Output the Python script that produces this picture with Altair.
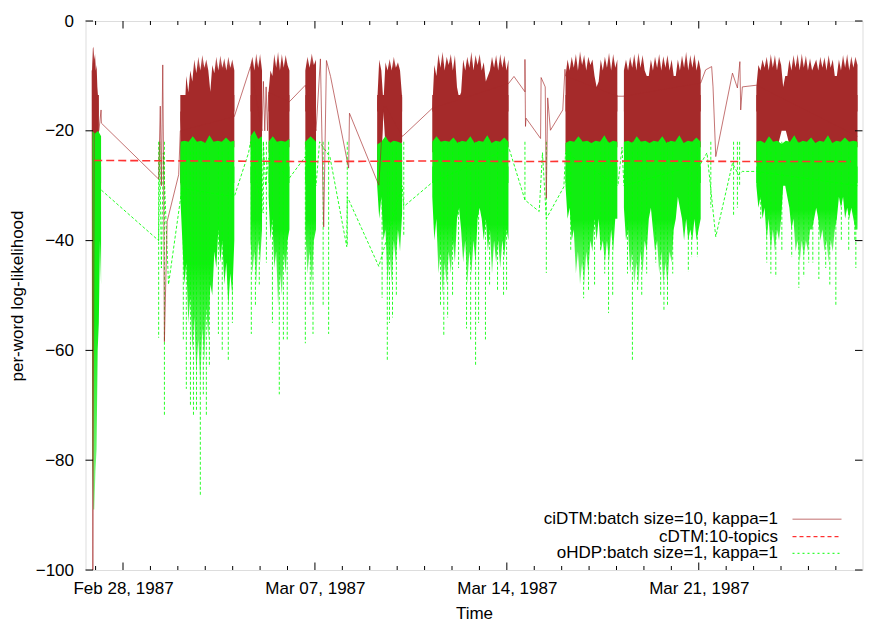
import altair as alt
import pandas as pd

T0 = pd.Timestamp("1987-02-28")

# ---------------- data (days after Feb 28 1987, per-word log-likelihood) -------------
series_names = ["ciDTM:batch size=10, kappa=1", "cDTM:10-topics", "oHDP:batch size=1, kappa=1"]

# ciDTM dense bursts: (start day, end day, upper envelope, lower envelope)
ci_clusters = [
    (-1.13, -0.88, [-9, -5, -4.7, -7, -6, -9, -8, -12, -14, -20],
     [-22, -22, -22, -22, -22, -24, -26, -30, -26, -22]),
    (2.09, 4.06, [-20, -14, -18, -10, -13, -9, -11, -7, -9.5, -6.5, -9, -6.2, -8.5, -7, -9, -12.9, -8, -9.5, -6.5,
                  -9, -6.3, -8.5, -6.8, -9, -6.5, -8.5, -7, -9],
     [-30, -28, -29, -26, -27, -24, -25, -23, -23, -23, -23, -23, -23, -24, -25, -26, -23, -23, -23, -23, -23, -23,
      -23, -23, -23, -23, -23, -23]),
    (4.65, 5.07, [-8, -6.5, -9, -5.9, -8.5, -6, -9], [-23]),
    (5.31, 6.07, [-13, -9, -10, -6, -8.5, -5.6, -9, -6, -8.5, -6.2, -8, -9], [-24, -23, -23]),
    (6.65, 7.04, [-9, -6.5, -8.5, -5.9, -8, -7], [-23]),
    (9.27, 10.18, [-15, -7, -9, -15, -7.5, -9, -6.9, -9, -6.5, -8.5, -7.5, -9, -14],
     [-29, -28, -26, -16.5, -23, -23, -23, -23, -23, -23, -23, -23, -22]),
    (11.28, 14.06, [-16, -8, -10, -6, -8.5, -5.6, -9, -6.5, -8, -6, -9, -6.2, -12, -14, -13, -7, -9, -6.5, -8.5,
                    -5.6, -9, -6.2, -8, -6, -9, -7.5, -11, -10, -9, -6.5, -8.5, -6.2, -9, -6, -8.5, -6.3, -9, -7],
     [-24, -23, -23, -23, -23, -23, -26, -28, -24, -23, -23, -23, -23, -28, -26, -23, -23, -23, -23]),
    (16.14, 18.03, [-10, -7, -9, -6.5, -8.5, -6, -9, -5.5, -8, -6.2, -9, -6.5, -8, -7, -10, -12, -11, -7, -9, -6.5,
                    -8.5, -5.8, -9, -6, -8.5, -7],
     [-24, -23, -23, -23, -23, -23, -23, -24, -26, -24, -23, -23, -23]),
    (18.27, 21.07, [-9, -7, -9, -6.5, -8.5, -6, -9, -5.8, -8.5, -6.2, -9, -10, -10, -7, -9, -6.5, -8.5, -6, -9, -6.4,
                    -8.5, -6.2, -9, -7, -10, -10, -7, -9, -6.3, -8.5, -5.6, -9, -6.2, -8.5, -6, -9, -7, -9],
     [-24, -23, -23, -23, -23, -26, -28, -23, -23, -23, -23, -23, -26, -24, -23, -23, -23, -23, -23]),
    (23.10, 26.79, [-12, -8, -9, -7, -8.5, -6.5, -9, -6, -8.5, -6.2, -9, -6.5, -8, -12, -10, -10, -7, -9, -6.2, -8.5,
                    -6, -9, -5.9, -8.5, -6.3, -9, -6.8, -9, -8, -7, -9, -6.5, -8.5, -6.6, -9, -6.2, -8.5, -7, -10,
                    -10, -7, -9, -6.2, -8.5, -6, -9, -6.4, -8.5, -6.5, -8],
     [-26, -24, -23, -23, -23, -23, -20, -20, -23, -23, -23, -23, -23, -23, -26, -23, -23, -23, -23, -26, -24, -23,
      -23, -23, -23]),
]

# ciDTM sparse trace between bursts
ci_link_day = [-1.13, -1.10, -1.05, -0.88, -0.80, -0.79, 1.30, 1.36, 1.40, 1.45, 1.48, 1.51, 1.61, 2.03, 2.09,
               4.06, 4.65, 5.07, 5.12, 5.17, 5.22, 5.27, 5.31, 6.07, 6.65, 7.04, 7.20, 7.32, 7.42, 7.57, 8.23,
               8.26, 9.33, 9.50, 9.60, 10.18, 10.24, 11.28, 14.06, 14.26, 14.66, 14.66, 14.68, 14.70, 15.23,
               15.25, 15.40, 15.44, 15.49, 15.59, 16.04, 16.12, 16.14, 18.03, 18.27, 21.07, 21.25, 21.47, 21.52,
               21.62, 22.23, 22.41, 22.50, 22.53, 22.59, 23.10, 26.79]
ci_link_val = [-9, -100, -20, -20, -16.2, -18.6, -28.8, -15.5, -30, -8, -26, -58.4, -36.5, -28, -20,
               -17.4, -8.3, -20, -11, -20, -12, -20, -13, -14.7, -11.7, -20, -6.9, -37.5, -7.2, -10.1, -26.8,
               -16.8, -29.9, -15.7, -15.7, -21, -20.8, -15.9, -11.4, -10.1, -12.9, -7, -19.2, -17.7, -21.4,
               -10.3, -12, -32.3, -14, -19.9, -16.2, -8.8, -10, -13.7, -13.7, -11.3, -8.9, -8.3, -12,
               -24.7, -9.5, -12.2, -7.4, -16.2, -12, -11.7, -21]

# oHDP dense bursts: (start day, end day, upper edge, lower envelope)
oh_clusters = [
    (-1.13, -0.80, [-20, -20.5, -20, -21], [-80, -89, -89, -82, -78, -60, -55, -40, -48]),
    (2.09, 4.06, [-22, -21.8, -22, -21, -22, -21.8, -22.2, -20.8, -22, -21.8, -22, -21.2, -22, -21.8],
     [-32, -40, -48, -44, -55, -50, -60, -54, -64, -58, -66, -56, -62, -52, -58, -48, -50, -42,
      -45, -38, -44, -40, -48, -44, -52, -46, -50, -40]),
    (4.65, 5.07, [-21, -20, -21.5, -21], [-40, -46, -42, -48, -40, -44, -38]),
    (5.31, 6.07, [-22, -21, -22, -21.8, -22, -21.5], [-32, -40, -36, -45, -42, -52, -46, -50, -42, -46, -40, -38]),
    (6.65, 7.04, [-22, -21, -22], [-38, -46, -42, -48, -40, -38]),
    (9.27, 10.18, [-22.5, -22, -21, -22.2, -21.8, -22, -22.3],
     [-30, -36, -32, -40, -38, -48, -42, -48, -40, -44, -38, -42, -35]),
    (11.28, 14.06, [-22, -21, -22, -21.8, -22, -21.2, -22.2, -21.8, -22, -21, -22.2, -21.8, -22, -20.8, -22.2, -21.8,
                    -22, -21.2, -22],
     [-32, -40, -36, -46, -42, -50, -44, -48, -42, -46, -40, -44, -36, -34, -38, -44, -40, -48,
      -42, -46, -40, -44, -36, -34, -36, -40, -36, -42, -38, -46, -40, -44, -40, -45, -40, -43, -38, -40]),
    (16.14, 18.03, [-22.2, -21.8, -22, -21, -22, -21.8, -22.2, -21.8, -22, -20.8, -22.2, -21.8, -22],
     [-30, -36, -34, -40, -38, -46, -42, -48, -44, -48, -42, -46, -40, -42, -36, -40, -36, -42,
      -40, -44, -40, -44, -38, -42, -36, -36]),
    (18.27, 21.07, [-22, -21.8, -22.2, -21, -22, -21.8, -22.2, -21.8, -22, -21, -22.2, -21.8, -22, -20.8, -22.2,
                    -21.8, -22, -21.2, -22],
     [-34, -40, -38, -46, -42, -48, -44, -48, -42, -46, -40, -42, -36, -34, -38, -42, -40, -46,
      -42, -48, -44, -48, -42, -44, -38, -36, -32, -34, -36, -40, -36, -40, -38, -40, -36, -40, -38, -36]),
    (23.10, 26.79, [-22, -21.8, -22.2, -21, -22, -21.8, -22.4, -21.8, -22, -20.8, -22.2, -21.8, -22, -21.2, -22.2,
                    -21.8, -22, -20.8, -22.2, -21.8, -22, -21.2, -22, -21.8, -22],
     [-30, -34, -32, -36, -34, -40, -36, -42, -38, -42, -38, -40, -36, -30, -30, -32, -34, -38,
      -36, -42, -40, -44, -40, -43, -40, -42, -38, -38, -36, -34, -36, -40, -38, -42, -40, -44,
      -40, -42, -38, -36, -32, -34, -32, -36, -34, -36, -34, -36, -38, -38]),
]

# oHDP isolated deep drops
oh_spike_top = -22
oh_spike_day = [1.30, 1.51, 2.20, 2.31, 2.46, 2.57, 2.68, 2.82, 2.93, 3.04, 3.15, 3.48, 3.62, 3.84, 3.99,
                4.68, 4.83, 4.97, 5.12, 5.23, 5.45, 5.70, 5.85, 5.99, 6.65, 6.83, 6.93, 7.30, 7.50, 8.18,
                9.45, 9.64, 9.72, 9.83, 9.97, 10.24, 11.36, 11.58, 11.70, 11.84, 12.02, 12.24, 12.53, 12.68,
                12.86, 12.97, 13.22, 13.37, 13.66, 13.88, 13.99, 14.66, 15.44, 16.33, 16.80, 16.98, 17.20,
                17.42, 17.57, 17.71, 17.86, 18.40, 18.58, 18.77, 18.92, 19.10, 19.43, 19.61, 19.73, 19.86,
                20.05, 20.62, 20.74, 20.95, 21.44, 22.27, 22.41, 22.49, 23.26, 23.48, 23.63, 23.81, 24.03,
                24.39, 24.65, 24.83, 25.01, 25.16, 25.38, 25.63, 25.78, 26.00, 26.20, 26.47, 26.69, 26.73]
oh_spike_val = [-57.7, -71.8, -58, -67, -70, -72, -71, -86.5, -68, -72, -63, -57, -60, -62, -55,
                -57, -52, -48, -35, -44, -55, -68, -58, -58, -58.7, -52, -57, -51.7, -57, -41.1,
                -50.4, -62, -55, -54, -50, -39, -38, -52, -57.5, -54, -50, -45, -56, -58,
                -62.7, -55, -58, -48, -49, -50, -49, -32.6, -45.9, -42, -50.5, -49, -48,
                -42, -46, -53.2, -50, -46, -62, -49, -50, -46, -44, -50, -52.6, -52,
                -46, -45.7, -43, -43, -34, -35.6, -34, -30.2, -36, -44, -46, -46.6, -42,
                -43, -48.6, -46.6, -44, -44, -47, -45, -48, -52, -40, -42, -40, -45]

# oHDP sparse trace between bursts
oh_link_day = [-0.79, 1.30, 1.34, 1.40, 1.47, 1.66, 2.15, 4.06, 4.58, 4.65, 5.07, 5.12, 5.20, 5.31, 6.07, 6.65,
               7.04, 7.17, 7.55, 8.16, 8.18, 9.33, 10.18, 10.24, 11.28, 14.08, 14.66, 15.18, 15.30, 15.44,
               16.08, 16.14, 18.05, 18.20, 18.27, 21.07, 21.30, 21.62, 22.23, 22.45, 22.59, 23.10, 26.79]
oh_link_val = [-30.8, -40, -22, -45, -24, -48, -30.5, -32, -24, -22, -35, -22, -30, -25, -28.6, -24.7,
               -30, -22, -24.8, -41.1, -32, -44.7, -30, -33.8, -29.4, -23.2, -32.6, -34.7, -24, -36,
               -30.2, -24, -30, -23, -30, -26, -24, -39.3, -25.9, -28, -27.4, -27.4, -30]

# cDTM
cd_day = [-1.05, 3.0, 7.0, 11.0, 15.0, 19.0, 23.0, 26.55]
cd_val = [-25.4, -25.5, -25.6, -25.5, -25.6, -25.5, -25.6, -25.6]

y_tick_values = [0, -20, -40, -60, -80, -100]
x_major_days = ["1987-02-28", "1987-03-07", "1987-03-14", "1987-03-21"]
x_minor_days = [str(d.date()) for d in pd.date_range("1987-02-27", "1987-03-26", freq="D")]


# ---------------- frames -------------
def t_of(d):
    return T0 + pd.Timedelta(days=float(d))


def edge_frame(clusters, which, mid):
    """One polygon per burst: its upper (which=2) or lower (which=3) edge, filled to a mid level."""
    rows = []
    for cid, c in enumerate(clusters):
        a, b, vals = c[0], c[1], c[which]
        n = len(vals)
        if n == 1:
            rows.append({"cid": cid, "t": t_of(a), "v": vals[0], "mid": mid})
            rows.append({"cid": cid, "t": t_of(b), "v": vals[0], "mid": mid})
            continue
        for k, v in enumerate(vals):
            rows.append({"cid": cid, "t": t_of(a + (b - a) * k / (n - 1)), "v": v, "mid": mid})
    return pd.DataFrame(rows)


# upper/lower halves overlap a little so no seam shows between them
ci_top_df = edge_frame(ci_clusters, 2, -16.5)
ci_bot_df = edge_frame(ci_clusters, 3, -13.5)
oh_top_df = edge_frame(oh_clusters, 2, -29.5)
oh_bot_df = edge_frame(oh_clusters, 3, -26.5)
ci_link_df = pd.DataFrame({"i": range(len(ci_link_day)), "t": [t_of(d) for d in ci_link_day], "v": ci_link_val})
oh_link_df = pd.DataFrame({"i": range(len(oh_link_day)), "t": [t_of(d) for d in oh_link_day], "v": oh_link_val})
oh_spike_df = pd.DataFrame({"t": [t_of(d) for d in oh_spike_day], "top": oh_spike_top, "v": oh_spike_val})
cd_df = pd.DataFrame({"t": [t_of(d) for d in cd_day], "v": cd_val})
major_df = pd.DataFrame({"t": pd.to_datetime(x_major_days)})
minor_df = pd.DataFrame({"t": pd.to_datetime([d for d in x_minor_days if d not in x_major_days])})
ytick_df = pd.DataFrame({"v": y_tick_values})

# ---------------- chart -------------
W, H = 777, 549
FONT = "Liberation Sans"
BROWN = "#a52a2a"
GREEN = "#00ff00"
RED = "#ff0000"
GBODY = "#11ee11"

xscale = alt.Scale(domain=[alt.DateTime(year=1987, month=2, date=26, hours=15, minutes=10),
                           alt.DateTime(year=1987, month=3, date=26, hours=23, minutes=20)])
yscale = alt.Scale(domain=[-100, 0], nice=False, zero=False)

xaxis = alt.Axis(values=[alt.DateTime(year=1987, month=int(s[5:7]), date=int(s[8:10])) for s in x_major_days],
                 format="%b %d, %Y", ticks=False, tickSize=0, domain=False, grid=False,
                 labelFontSize=17, labelFont=FONT, labelColor="black", labelPadding=10,
                 labelFlush=False, labelOverlap=False,
                 titleFontSize=17, titleFont=FONT, titleFontWeight="normal", titleColor="black",
                 titleX=W / 2, titleY=43, titleAlign="center", titleBaseline="middle")
yaxis = alt.Axis(values=y_tick_values, ticks=False, tickSize=0, domain=False, grid=False,
                 labelFontSize=17, labelFont=FONT, labelColor="black", labelPadding=12,
                 titleFontSize=17, titleFont=FONT, titleFontWeight="normal", titleColor="black",
                 titleAngle=270, titleX=-68.5, titleY=H / 2, titleAlign="center", titleBaseline="middle")


def X():
    return alt.X("t:T", scale=xscale, axis=xaxis, title="Time")


def Y(field):
    return alt.Y(field, type="quantitative", scale=yscale, axis=yaxis, title="per-word log-likelihood")


def grad(stops):
    return alt.Gradient(gradient="linear", x1=0, x2=0, y1=0, y2=1,
                        stops=[alt.GradientStop(offset=o, color=c) for o, c in stops])


ci_top = alt.Chart(ci_top_df).mark_area(
    interpolate="linear", color=grad([(0, "#c46a6a"), (0.2, BROWN), (1, BROWN)])).encode(
    x=X(), y=Y("v"), y2=alt.Y2("mid"), detail="cid:N")
ci_bot = alt.Chart(ci_bot_df).mark_area(interpolate="linear", color=BROWN).encode(
    x=X(), y=Y("v"), y2=alt.Y2("mid"), detail="cid:N")
oh_bot = alt.Chart(oh_bot_df).mark_area(
    interpolate="linear", color=grad([(0, GBODY), (0.45, GBODY), (1, "#8cf78c")])).encode(
    x=X(), y=Y("v"), y2=alt.Y2("mid"), detail="cid:N")
oh_top = alt.Chart(oh_top_df).mark_area(interpolate="linear", color=GBODY).encode(
    x=X(), y=Y("v"), y2=alt.Y2("mid"), detail="cid:N")
oh_spikes = alt.Chart(oh_spike_df).mark_rule(color=GREEN, strokeWidth=1, strokeDash=[3, 2], opacity=0.85).encode(
    x=X(), y=Y("top"), y2=alt.Y2("v"))
oh_link = alt.Chart(oh_link_df).mark_line(color=GREEN, strokeWidth=1, strokeDash=[3, 2], opacity=0.85).encode(
    x=X(), y=Y("v"), order="i:Q")
ci_link = alt.Chart(ci_link_df).mark_line(color=BROWN, strokeWidth=1, opacity=0.65).encode(
    x=X(), y=Y("v"), order="i:Q")
cd_line = alt.Chart(cd_df).mark_line(color="#ff3333", strokeWidth=1.6, strokeDash=[8, 4]).encode(
    x=X(), y=Y("v"))

# inward ticks (gnuplot style), all four sides
tick_layers = [
    alt.Chart(major_df).mark_rule(color="black").encode(x=X(), y=alt.value(H), y2=alt.value(H - 7.5)),
    alt.Chart(major_df).mark_rule(color="black").encode(x=X(), y=alt.value(0), y2=alt.value(7.5)),
    alt.Chart(minor_df).mark_rule(color="black").encode(x=X(), y=alt.value(H), y2=alt.value(H - 4)),
    alt.Chart(minor_df).mark_rule(color="black").encode(x=X(), y=alt.value(0), y2=alt.value(4)),
    alt.Chart(ytick_df).mark_rule(color="black").encode(y=Y("v"), x=alt.value(0), x2=alt.value(7.5)),
    alt.Chart(ytick_df).mark_rule(color="black").encode(y=Y("v"), x=alt.value(W), x2=alt.value(W - 7.5)),
]

# legend (gnuplot style: label right-aligned, sample to the right)
legend_styles = [
    dict(color=BROWN, opacity=0.45, strokeWidth=1.5),
    dict(color=RED, strokeDash=[4, 3], strokeWidth=1),
    dict(color=GREEN, strokeDash=[2, 3], strokeWidth=1),
]
legend_rows = [498.3, 515.7, 532.3]
legend_layers = []
for name, style, ly in zip(series_names, legend_styles, legend_rows):
    ldf = pd.DataFrame({"label": [name]})
    legend_layers.append(
        alt.Chart(ldf).mark_text(align="right", baseline="middle", fontSize=17, font=FONT, color="black").encode(
            x=alt.value(692.5), y=alt.value(ly), text="label:N"))
    legend_layers.append(
        alt.Chart(ldf).mark_rule(**style).encode(x=alt.value(707), x2=alt.value(756), y=alt.value(ly)))

chart = alt.layer(ci_top, ci_bot, oh_bot, oh_top, oh_spikes, oh_link, ci_link, cd_line,
                  *tick_layers, *legend_layers).properties(
    width=W, height=H,
    padding={"left": 77.5, "top": 13, "right": 23.5, "bottom": 56},
    autosize=alt.AutoSizeParams(type="none"),
    background="white",
).configure_view(stroke="black", strokeWidth=1.2).configure(font=FONT)

chart.save("out.html", embed_options={"renderer": "svg", "actions": False})
